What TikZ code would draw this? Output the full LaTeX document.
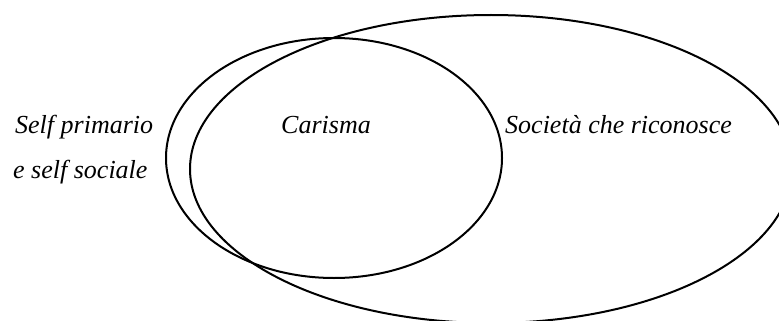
\documentclass[tikz,border=0pt]{standalone}
\usepackage{fontspec}
\setmainfont{Liberation Serif}
\begin{document}
\begin{tikzpicture}[x=1pt,y=-1pt,
  ring/.style={draw=black,line width=2pt},
  lbl/.style={anchor=base west,inner sep=0pt,font=\fontsize{26}{30}\selectfont\itshape}]
\useasboundingbox (0,0) rectangle (779,321);
\begin{scope}
\clip (0,0) rectangle (779,321);
\draw[ring] (491,169) ellipse [x radius=301,y radius=154];
\end{scope}
\draw[ring] (334,158) ellipse [x radius=168,y radius=120];
\node[lbl] (self1) at (15,133) {Self primario};
\node[lbl] (self2) at (13,178) {e self sociale};
\node[lbl] (car) at (281,133) {Carisma};
\node[lbl] (soc) at (505,133) {Società che riconosce};
\end{tikzpicture}
\end{document}
